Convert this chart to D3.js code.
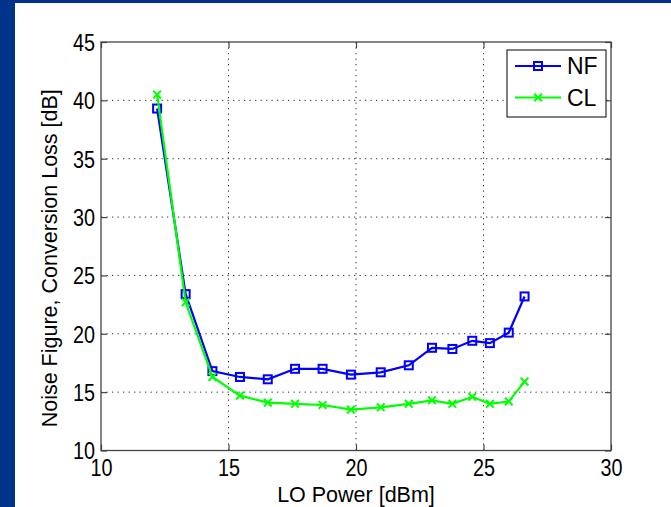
<!DOCTYPE html>
<html>
<head>
<meta charset="utf-8">
<script src="https://cdn.jsdelivr.net/npm/d3@7"></script>
<style>
  html, body { margin: 0; padding: 0; background: #00338a; }
  svg { display: block; font-family: 'Liberation Sans', Arial, sans-serif; }
</style>
</head>
<body>
<svg id="chart" width="671" height="507"></svg>
<script>
// values
const loPower = [12.2, 13.32, 14.37, 15.45, 16.54, 17.61, 18.69, 19.8, 20.97, 22.07, 22.98, 23.78, 24.56, 25.25, 25.99, 26.61];
const nfValues = [39.3, 23.4, 16.8, 16.3, 16.1, 17.0, 17.0, 16.5, 16.7, 17.3, 18.8, 18.7, 19.4, 19.2, 20.1, 23.2];
const clValues = [40.5, 22.7, 16.3, 14.7, 14.1, 14.0, 13.9, 13.5, 13.7, 14.0, 14.3, 14.0, 14.6, 14.0, 14.2, 15.9];
const xTicks = [10, 15, 20, 25, 30];
const yTicks = [10, 15, 20, 25, 30, 35, 40, 45];
const seriesNames = ['NF', 'CL'];

const width = 671;
const height = 507;
const margin = { left: 101, top: 42, right: 60, bottom: 56.5 };

const svg = d3.select('#chart');

// white panel on the blue slide
svg.append('rect')
  .attr('x', 15).attr('y', 3)
  .attr('width', width - 15).attr('height', height - 3)
  .attr('fill', '#fff');

const x = d3.scaleLinear()
  .domain([10, 30])
  .range([margin.left, width - margin.right]);

const y = d3.scaleLinear()
  .domain([10, 45])
  .range([height - margin.bottom, margin.top]);

const x0 = x.range()[0], x1 = x.range()[1];
const y0 = y.range()[1], y1 = y.range()[0];

// dotted grid
const grid = svg.append('g')
  .attr('stroke', '#333')
  .attr('stroke-width', 1)
  .attr('stroke-dasharray', '1.3,4.2');
grid.selectAll('.vg')
  .data(xTicks.slice(1, -1))
  .join('line')
  .attr('x1', d => x(d)).attr('x2', d => x(d))
  .attr('y1', y0).attr('y2', y1);
grid.selectAll('.hg')
  .data(yTicks.slice(1, -1))
  .join('line')
  .attr('y1', d => y(d)).attr('y2', d => y(d))
  .attr('x1', x0).attr('x2', x1);

// axes, ticks pointing inward like matlab
const sx = 0.86;
function styleAxis(g) {
  g.select('.domain').remove();
  g.selectAll('line').attr('stroke', '#444').attr('stroke-width', 1.2);
  g.selectAll('text')
    .attr('fill', '#000')
    .attr('font-size', 23);
}

svg.append('g')
  .attr('transform', `translate(0,${y1})`)
  .call(d3.axisBottom(x).tickValues(xTicks).tickSize(-6).tickPadding(0).tickFormat(d3.format('d')))
  .call(styleAxis)
  .call(g => g.selectAll('text')
    .attr('y', 26)
    .attr('dy', null)
    .attr('transform', `scale(${sx},1)`));

svg.append('g')
  .attr('transform', `translate(0,${y0})`)
  .call(d3.axisTop(x).tickValues(xTicks).tickSize(-6).tickFormat(''))
  .call(styleAxis);

svg.append('g')
  .attr('transform', `translate(${x0},0)`)
  .call(d3.axisLeft(y).tickValues(yTicks).tickSize(-6).tickPadding(0).tickFormat(d3.format('d')))
  .call(styleAxis)
  .call(g => g.selectAll('text')
    .attr('x', -6 / sx)
    .attr('dy', '0.36em')
    .attr('transform', `scale(${sx},1)`));

svg.append('g')
  .attr('transform', `translate(${x1},0)`)
  .call(d3.axisRight(y).tickValues(yTicks).tickSize(-6).tickFormat(''))
  .call(styleAxis);

// the box
svg.append('rect')
  .attr('x', x0).attr('y', y0)
  .attr('width', x1 - x0).attr('height', y1 - y0)
  .attr('fill', 'none')
  .attr('stroke', '#444')
  .attr('stroke-width', 1.3);

// axis titles
svg.append('text')
  .attr('x', (x0 + x1) / 2)
  .attr('y', 502)
  .attr('text-anchor', 'middle')
  .attr('font-size', 21.5)
  .text('LO Power [dBm]');

svg.append('text')
  .attr('transform', `translate(57,${(y0 + y1) / 2 + 12}) rotate(-90)`)
  .attr('text-anchor', 'middle')
  .attr('font-size', 21.5)
  .text('Noise Figure, Conversion Loss [dB]');

// series
const line = d3.line()
  .x(d => x(d[0]))
  .y(d => y(d[1]));

const nfData = loPower.map((p, i) => [p, nfValues[i]]);
const clData = loPower.map((p, i) => [p, clValues[i]]);

svg.append('path')
  .datum(nfData)
  .attr('d', line)
  .attr('fill', 'none')
  .attr('stroke', '#0000ff')
  .attr('stroke-width', 2.2);

svg.append('g')
  .selectAll('rect')
  .data(nfData)
  .join('rect')
  .attr('x', d => x(d[0]) - 4)
  .attr('y', d => y(d[1]) - 4)
  .attr('width', 8)
  .attr('height', 8)
  .attr('fill', 'none')
  .attr('stroke', '#0000ff')
  .attr('stroke-width', 2);

svg.append('path')
  .datum(clData)
  .attr('d', line)
  .attr('fill', 'none')
  .attr('stroke', '#00ff00')
  .attr('stroke-width', 2.2);

const cross = d3.symbol().type(d3.symbolX).size(40);
svg.append('g')
  .selectAll('path')
  .data(clData)
  .join('path')
  .attr('transform', d => `translate(${x(d[0])},${y(d[1])})`)
  .attr('d', cross)
  .attr('fill', 'none')
  .attr('stroke', '#00ff00')
  .attr('stroke-width', 2);

// legend
const legend = svg.append('g');
legend.append('rect')
  .attr('x', 507).attr('y', 50)
  .attr('width', 99).attr('height', 67)
  .attr('fill', '#fff')
  .attr('stroke', '#000')
  .attr('stroke-width', 1);

const colors = ['#0000ff', '#00ff00'];
seriesNames.forEach((name, i) => {
  const ly = 66 + i * 31.5;
  legend.append('line')
    .attr('x1', 515).attr('x2', 561)
    .attr('y1', ly).attr('y2', ly)
    .attr('stroke', colors[i])
    .attr('stroke-width', 2.2);
  if (i === 0) {
    legend.append('rect')
      .attr('x', 534).attr('y', ly - 4)
      .attr('width', 8).attr('height', 8)
      .attr('fill', 'none')
      .attr('stroke', colors[i])
      .attr('stroke-width', 2);
  } else {
    legend.append('path')
      .attr('transform', `translate(538,${ly})`)
      .attr('d', cross)
      .attr('fill', 'none')
      .attr('stroke', colors[i])
      .attr('stroke-width', 2);
  }
  legend.append('text')
    .attr('x', 567)
    .attr('y', ly)
    .attr('dy', '0.36em')
    .attr('font-size', 23)
    .text(name);
});
</script>
</body>
</html>
